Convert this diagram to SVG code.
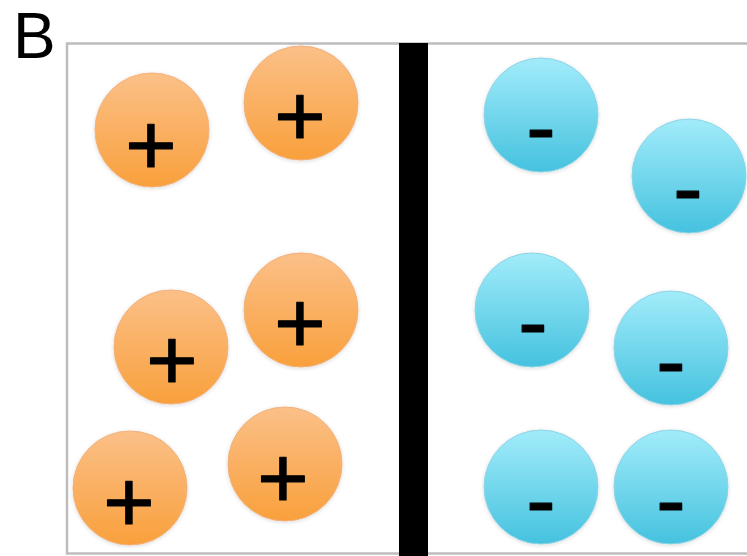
<svg xmlns="http://www.w3.org/2000/svg" width="747" height="556" viewBox="0 0 747 556">
  <defs>
    <linearGradient id="gOr" x1="0" y1="0" x2="0" y2="1">
      <stop offset="0" stop-color="#FBC088"/>
      <stop offset="1" stop-color="#F9A03C"/>
    </linearGradient>
    <linearGradient id="gBl" x1="0" y1="0" x2="0" y2="1">
      <stop offset="0" stop-color="#A2ECFA"/>
      <stop offset="1" stop-color="#45C2DF"/>
    </linearGradient>
    <filter id="sh" x="-20%" y="-20%" width="140%" height="140%">
      <feGaussianBlur in="SourceAlpha" stdDeviation="2"/>
      <feOffset dy="1" result="b"/>
      <feComponentTransfer><feFuncA type="linear" slope="0.15"/></feComponentTransfer>
      <feMerge><feMergeNode/><feMergeNode in="SourceGraphic"/></feMerge>
    </filter>
  </defs>
  <style>
    .pos { fill: url(#gOr); stroke: #F2B07A; stroke-width: 1; filter: url(#sh); }
    .neg { fill: url(#gBl); stroke: #8CD3E6; stroke-width: 1; filter: url(#sh); }
    .sign { font-family: "Liberation Sans", Arial, sans-serif; font-size: 88px; fill: #000; stroke: #000; stroke-width: 1.2; stroke-linejoin: round; text-anchor: middle; }
    .lbl { font-family: "Liberation Sans", Arial, sans-serif; font-size: 64px; fill: #000; }
  </style>
  <rect width="747" height="556" fill="#FFFFFF"/>
  <text class="lbl" x="13" y="58">B</text>
  <rect id="box" x="67" y="43.5" width="700" height="510" fill="none" stroke="#BDBDBD" stroke-width="2.5"/>
  <rect id="membrane" x="399" y="43" width="29" height="513" fill="#000"/>

  <g id="pos1"><circle class="pos" cx="152" cy="130" r="57"/><text class="sign" x="151" y="175">+</text></g>
  <g id="pos2"><circle class="pos" cx="301" cy="103" r="57"/><text class="sign" x="300" y="146">+</text></g>
  <g id="pos3"><circle class="pos" cx="171" cy="347" r="57"/><text class="sign" x="172" y="390">+</text></g>
  <g id="pos4"><circle class="pos" cx="301" cy="310" r="57"/><text class="sign" x="300" y="353">+</text></g>
  <g id="pos5"><circle class="pos" cx="130" cy="488" r="57"/><text class="sign" x="129" y="532">+</text></g>
  <g id="pos6"><circle class="pos" cx="285" cy="464" r="57"/><text class="sign" x="283" y="508">+</text></g>

  <g id="neg1"><circle class="neg" cx="541" cy="115" r="57"/><text class="sign" x="541" y="157">-</text></g>
  <g id="neg2"><circle class="neg" cx="689" cy="176" r="57"/><text class="sign" x="688" y="218">-</text></g>
  <g id="neg3"><circle class="neg" cx="532" cy="310" r="57"/><text class="sign" x="533" y="352">-</text></g>
  <g id="neg4"><circle class="neg" cx="671" cy="348" r="57"/><text class="sign" x="671" y="391">-</text></g>
  <g id="neg5"><circle class="neg" cx="541" cy="487" r="57"/><text class="sign" x="541" y="530">-</text></g>
  <g id="neg6"><circle class="neg" cx="671" cy="487" r="57"/><text class="sign" x="671" y="530">-</text></g>
</svg>
